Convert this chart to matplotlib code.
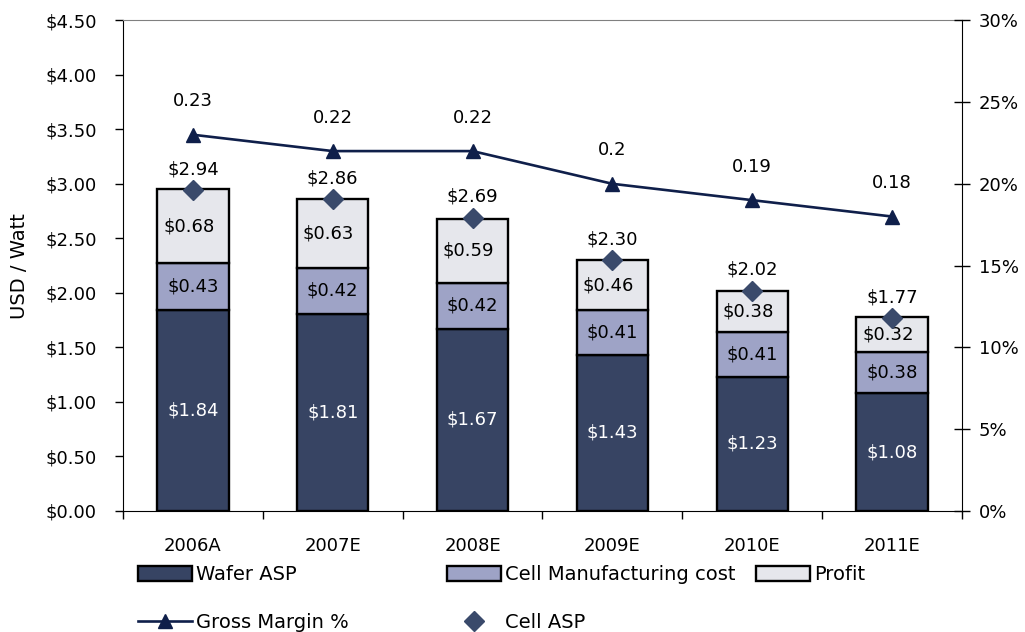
import matplotlib
matplotlib.use("Agg")
import matplotlib.pyplot as plt
from matplotlib.patches import Patch
from matplotlib.lines import Line2D
import numpy as np

years = ["2006A", "2007E", "2008E", "2009E", "2010E", "2011E"]
wafer_asp = [1.84, 1.81, 1.67, 1.43, 1.23, 1.08]
cell_cost = [0.43, 0.42, 0.42, 0.41, 0.41, 0.38]
profit = [0.68, 0.63, 0.59, 0.46, 0.38, 0.32]
cell_asp = [2.94, 2.86, 2.69, 2.30, 2.02, 1.77]
gross_margin = [0.23, 0.22, 0.22, 0.20, 0.19, 0.18]

c_wafer = "#374463"
c_cell = "#9ea3c6"
c_profit = "#e6e7ec"
c_line = "#0f1f4a"
c_diamond = "#3a4a6b"

plt.rcParams["font.family"] = "DejaVu Sans"
plt.rcParams["font.size"] = 13

fig = plt.figure(figsize=(10.25, 6.32), dpi=100)
ax = fig.add_axes([0.12, 0.1915, 0.8185, 0.7765])
x = np.arange(len(years))
w = 0.51
edge = dict(edgecolor="black", linewidth=1.7, zorder=2)

ax.bar(x, wafer_asp, w, color=c_wafer, **edge)
ax.bar(x, cell_cost, w, bottom=wafer_asp, color=c_cell, **edge)
bottom2 = np.array(wafer_asp) + np.array(cell_cost)
ax.bar(x, profit, w, bottom=bottom2, color=c_profit, **edge)

# segment values inside the bars
for i in range(len(years)):
    ax.text(x[i], wafer_asp[i] / 2, f"${wafer_asp[i]:.2f}", color="white",
            ha="center", va="center", fontsize=13)
    ax.text(x[i], wafer_asp[i] + cell_cost[i] / 2, f"${cell_cost[i]:.2f}",
            ha="center", va="center", fontsize=13)
    ax.annotate(f"${profit[i]:.2f}", (x[i], bottom2[i] + profit[i] / 2), xytext=(-3, 0),
                textcoords="offset points", ha="center", va="center", fontsize=13)

ax.plot(x, cell_asp, linestyle="none", marker="D", ms=10.5, color=c_diamond, zorder=4, clip_on=False)
for i in range(len(years)):
    ax.annotate(f"${cell_asp[i]:.2f}", (x[i], cell_asp[i]), xytext=(0, 15),
                textcoords="offset points", ha="center", va="center", fontsize=13)

ax.set_xlim(-0.5, len(years) - 0.5)
ax.set_ylim(0, 4.5)
ax.set_yticks(np.arange(0, 4.51, 0.5))
ax.set_yticklabels([f"${v:.2f}" for v in np.arange(0, 4.51, 0.5)])
ax.set_xticks(x)
ax.set_xticklabels(years)
ax.set_xticks(np.arange(-0.5, len(years), 1), minor=True)
ax.tick_params(axis="x", which="major", length=0, pad=19)
ax.tick_params(axis="x", which="minor", length=6, direction="out", width=1)
ax.tick_params(axis="y", length=6, direction="out", width=1, pad=13)
ax.set_ylabel("USD / Watt", fontsize=14)
ax.yaxis.set_label_coords(-0.112, 0.5)
ax.spines["top"].set_color("#808080")
ax.spines["top"].set_linewidth(0.8)
ax.spines["right"].set_visible(False)

ax2 = ax.twinx()
ax2.set_ylim(0, 0.30)
ax2.set_yticks(np.arange(0, 0.301, 0.05))
ax2.set_yticklabels([f"{int(round(v * 100))}%" for v in np.arange(0, 0.301, 0.05)])
ax2.tick_params(axis="y", direction="inout", length=12, width=1, pad=6)
ax2.spines["top"].set_visible(False)
ax2.spines["left"].set_visible(False)
ax2.spines["bottom"].set_visible(False)
ax2.plot(x, gross_margin, color=c_line, linewidth=1.9, marker="^", ms=10, zorder=4)
for i in range(len(years)):
    ax2.annotate(f"{gross_margin[i]:g}", (x[i], gross_margin[i]), xytext=(0, 24),
                 textcoords="offset points", ha="center", va="center", fontsize=13)

h_wafer = Patch(facecolor=c_wafer, edgecolor="black", linewidth=1.7)
h_cell = Patch(facecolor=c_cell, edgecolor="black", linewidth=1.7)
h_profit = Patch(facecolor=c_profit, edgecolor="black", linewidth=1.7)
h_gm = Line2D([], [], color=c_line, linewidth=1.9, marker="^", ms=10)
h_asp = Line2D([], [], linestyle="none", marker="D", ms=10.5, color=c_diamond)

leg_kw = dict(frameon=False, fontsize=14, handlelength=2.8, handleheight=0.8,
              handletextpad=0.2, labelspacing=1.5, borderpad=0, borderaxespad=0,
              loc="upper left")
top = 1 - 565 / 632
fig.legend([h_wafer, h_gm], ["Wafer ASP", "Gross Margin %"],
           bbox_to_anchor=(138 / 1025, top), **leg_kw)
fig.legend([h_cell, h_asp], ["Cell Manufacturing cost", "Cell ASP"],
           bbox_to_anchor=(447 / 1025, top), **leg_kw)
fig.legend([h_profit], ["Profit"],
           bbox_to_anchor=(756 / 1025, top), **leg_kw)

fig.savefig("out.png", dpi=100)
